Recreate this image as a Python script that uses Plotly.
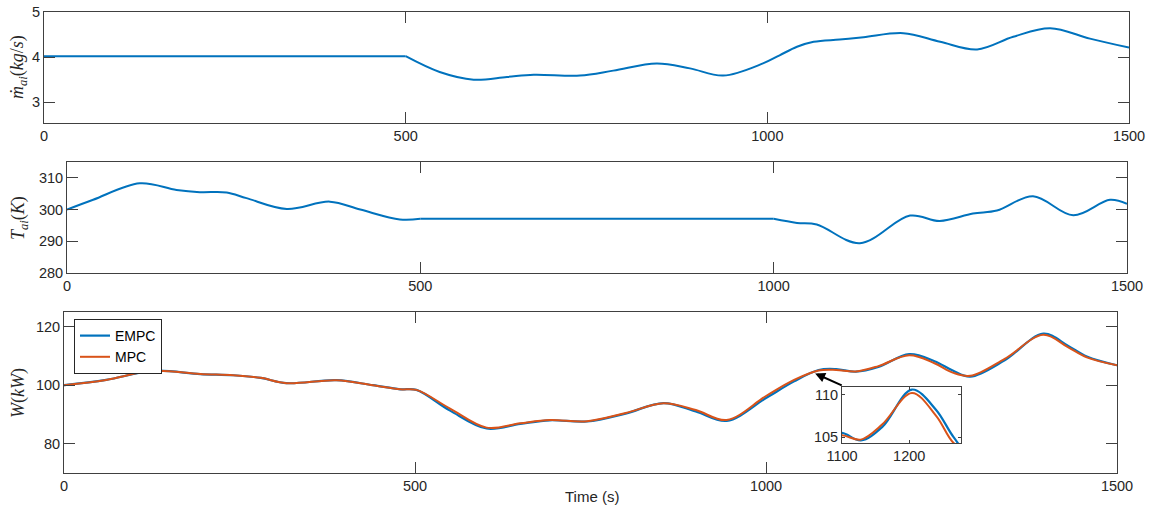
import plotly.graph_objects as go

# ---------------- data ----------------
t_m = [0, 500, 547, 594, 640, 677, 741, 787, 847, 893, 939, 994, 1017, 1041, 1064, 1100, 1133, 1188, 1239, 1290, 1340, 1391, 1446, 1500]
m_dot = [4.02, 4.02, 3.67, 3.50, 3.56, 3.61, 3.59, 3.70, 3.86, 3.75, 3.59, 3.86, 4.04, 4.23, 4.34, 4.39, 4.44, 4.53, 4.34, 4.17, 4.45, 4.64, 4.41, 4.21]

t_T = [0, 37, 103, 155, 188, 226, 254, 311, 372, 415, 471, 500, 1000, 1033, 1061, 1122, 1193, 1235, 1282, 1316, 1367, 1424, 1476, 1500]
T_ai = [300, 303.1, 308.3, 306.2, 305.5, 305.4, 303.6, 300.2, 302.5, 300, 296.9, 297.1, 297.1, 295.8, 295.3, 289.4, 298.1, 296.4, 298.75, 299.7, 304.2, 298.2, 303.1, 301.8]

t_W = [0, 60, 127, 194, 241, 280, 317, 388, 440, 479, 502, 550, 602, 650, 692, 745, 800, 854, 900, 944, 1000, 1040, 1075, 1100, 1128, 1160, 1204, 1240, 1266, 1291, 1340, 1395, 1430, 1457, 1500]
W_mpc = [100, 101.8, 104.9, 103.8, 103.4, 102.5, 100.7, 101.7, 100.0, 98.6, 98.4, 92.0, 85.5, 87.0, 88.1, 87.7, 90.5, 93.8, 91.5, 88.1, 96.3, 101.8, 105.0, 105.2, 104.7, 106.5, 110.2, 107.5, 104.3, 103.2, 109.0, 117.2, 113.0, 109.5, 106.8]
W_empc = [100, 101.8, 104.9, 103.8, 103.4, 102.5, 100.7, 101.7, 100.0, 98.6, 98.4, 91.3, 85.2, 86.8, 88.0, 87.6, 90.3, 93.9, 91.0, 87.8, 95.6, 101.3, 105.2, 105.5, 104.6, 106.2, 110.6, 108.2, 105.0, 102.9, 108.5, 117.6, 113.5, 109.8, 106.8]

x_ticks = [0, 500, 1000, 1500]
inset_x_ticks = [1100, 1200]
inset_y_ticks = [105, 110]

BLUE = "#0072BD"
ORANGE = "#D95319"
AX = "#404040"
TXT = "#262626"
W_PX, H_PX = 1161, 506
SMOOTH = 1.0


def px_x(p):
    return p / W_PX


def px_y(p):
    return 1 - p / H_PX


fig = go.Figure()


def add_line(x, y, xa, ya, color, width, shape="spline", name=None, legend=False):
    fig.add_trace(go.Scatter(x=x, y=y, xaxis=xa, yaxis=ya, mode="lines", name=name,
                             showlegend=legend,
                             line=dict(color=color, width=width, shape=shape, smoothing=SMOOTH)))


# mass flow: constant segment then smooth variation
i500 = t_m.index(500)
add_line(t_m[:i500 + 1], m_dot[:i500 + 1], "x", "y", BLUE, 2, shape="linear")
add_line(t_m[i500:], m_dot[i500:], "x", "y", BLUE, 2)

# temperature: smooth, constant, smooth
j500 = t_T.index(500)
j1000 = t_T.index(1000)
add_line(t_T[:j500 + 1], T_ai[:j500 + 1], "x2", "y2", BLUE, 2)
add_line(t_T[j500:j1000 + 1], T_ai[j500:j1000 + 1], "x2", "y2", BLUE, 2, shape="linear")
add_line(t_T[j1000:], T_ai[j1000:], "x2", "y2", BLUE, 2)

# power
add_line(t_W, W_empc, "x3", "y3", BLUE, 2.2, name="EMPC", legend=True)
add_line(t_W, W_mpc, "x3", "y3", ORANGE, 2, name="MPC", legend=True)
add_line(t_W, W_empc, "x4", "y4", BLUE, 2.2)
add_line(t_W, W_mpc, "x4", "y4", ORANGE, 2)

tickfont = dict(family="Liberation Sans, Arial, sans-serif", size=14.5, color=TXT)
common = dict(showline=True, linecolor=AX, linewidth=1, mirror="ticks", ticks="inside",
              ticklen=11, tickcolor=AX, showgrid=False, zeroline=False, tickfont=tickfont,
              automargin=False)
inset = {**common, "ticklen": 3}

fig.update_layout(
    width=W_PX, height=H_PX, margin=dict(l=0, r=0, t=0, b=0, autoexpand=False),
    paper_bgcolor="white", plot_bgcolor="white",
    xaxis=dict(domain=[px_x(44), px_x(1129)], anchor="y", range=[0, 1500], tickvals=x_ticks, **common),
    yaxis=dict(domain=[px_y(122.5), px_y(12)], anchor="x", range=[2.55, 5], tickvals=[3, 4, 5], **common),
    xaxis2=dict(domain=[px_x(67), px_x(1127)], anchor="y2", range=[0, 1500], tickvals=x_ticks, **common),
    yaxis2=dict(domain=[px_y(273), px_y(162)], anchor="x2", range=[280, 315], tickvals=[280, 290, 300, 310], **common),
    xaxis3=dict(domain=[px_x(64), px_x(1117)], anchor="y3", range=[0, 1500], tickvals=x_ticks, **common),
    yaxis3=dict(domain=[px_y(473), px_y(312)], anchor="x3", range=[70, 125], tickvals=[80, 100, 120], **common),
    xaxis4=dict(domain=[px_x(842), px_x(961)], anchor="y4", range=[1100, 1277], tickvals=inset_x_ticks, **inset),
    yaxis4=dict(domain=[px_y(443), px_y(387)], anchor="x4", range=[104.3, 110.9], tickvals=inset_y_ticks, **inset),
    legend=dict(x=px_x(74), y=px_y(319), xanchor="left", yanchor="top",
                bgcolor="white", bordercolor=TXT, borderwidth=1,
                font=dict(family="Liberation Sans, Arial, sans-serif", size=14, color="black"),
                itemwidth=30, tracegroupgap=0),
)

serif = dict(family="Liberation Serif, DejaVu Serif, serif", size=18, color=TXT)
labels = [
    ("<i>ṁ</i><sub><i>ai</i></sub>(<i>kg</i>/<i>s</i>)", 18, 67),
    ("<i>T</i><sub><i>ai</i></sub>(<i>K</i>)", 20, 218),
    ("<i>W</i>(<i>kW</i>)", 18, 393),
]
for txt, x, y in labels:
    fig.add_annotation(text=txt, x=px_x(x), y=px_y(y), xref="paper", yref="paper",
                       textangle=-90, showarrow=False, font=serif, xanchor="center", yanchor="middle")

fig.add_annotation(text="Time (s)", x=px_x(592), y=px_y(496), xref="paper", yref="paper",
                   showarrow=False, font=dict(family="Liberation Sans, Arial, sans-serif", size=15, color=TXT),
                   xanchor="center", yanchor="middle")

# arrow pointing from inset to zoomed region
fig.add_annotation(x=1070, y=104.0, xref="x3", yref="y3", ax=1110, ay=99.7, axref="x3", ayref="y3",
                   showarrow=True, arrowhead=2, arrowsize=1, arrowwidth=2, arrowcolor="black", text="")

fig.write_html("out.html", config={"displayModeBar": False},
               post_script="document.body.style.margin='0';document.body.style.overflow='hidden';")
